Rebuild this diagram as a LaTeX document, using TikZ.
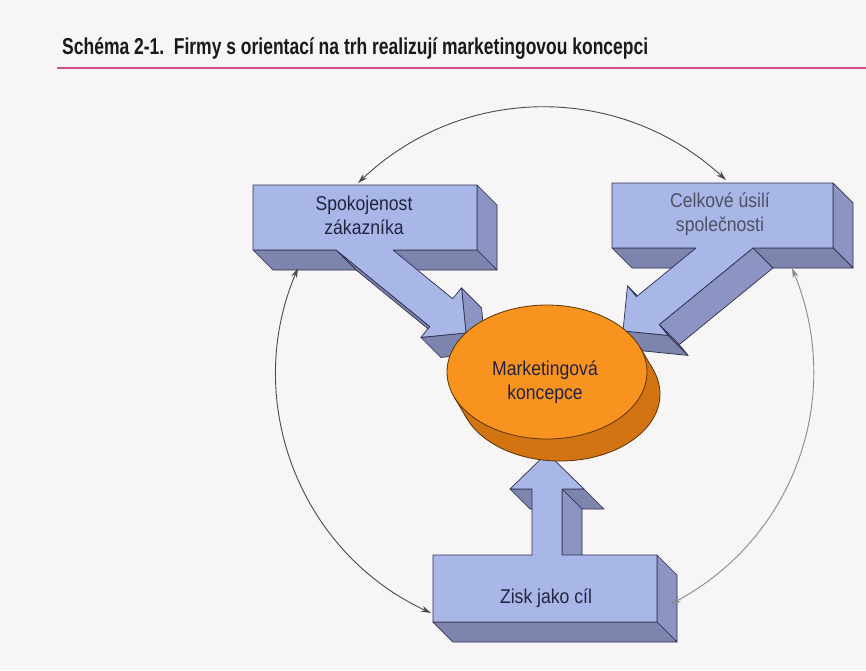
\documentclass[tikz,border=0pt]{standalone}
\usepackage{fontspec}
\setmainfont{Liberation Sans}
\newfontfamily\labelfont[FakeStretch=0.88]{Liberation Sans}
\usetikzlibrary{shapes.geometric,arrows.meta}

\definecolor{paper}{HTML}{F7F5F6}
\definecolor{facefront}{HTML}{A8B7E7}
\definecolor{faceside}{HTML}{8B94C2}
\definecolor{faceunder}{HTML}{7D85AF}
\definecolor{edgeline}{HTML}{2C2E4C}
\definecolor{orangefront}{HTML}{F7931E}
\definecolor{orangeback}{HTML}{D27412}
\definecolor{orangeedge}{HTML}{5A3206}
\definecolor{rulepink}{HTML}{CF4F8C}
\definecolor{textnavy}{HTML}{23233F}
\definecolor{loopdark}{HTML}{4A4A4A}
\definecolor{looplight}{HTML}{8A8A8A}

\begin{document}
\begin{tikzpicture}[x=1pt,y=1pt,
  front/.style={fill=facefront, draw=edgeline, line width=0.7pt, line join=round},
  side/.style={fill=faceside, draw=edgeline, line width=0.7pt, line join=round},
  under/.style={fill=faceunder, draw=edgeline, line width=0.7pt, line join=round},
  lbl/.style={font=\labelfont\fontsize{20}{24.5}\selectfont, text=textnavy, align=center, inner sep=0pt},
  loop/.style={line width=0.9pt, {Stealth[length=10pt,width=6pt]}-{Stealth[length=10pt,width=6pt]}},
]
% page
\fill[paper] (0,0) rectangle (866,-670);
\useasboundingbox (0,0) rectangle (866,-670);

% heading and rule
\node[anchor=base west, inner sep=0pt, font=\bfseries\fontsize{23}{27}\selectfont, text=black!90] (title) at (62,-54)
  {\resizebox{586pt}{\height}{Schéma 2-1.\hspace{0.55em}Firmy s orientací na trh realizují marketingovou koncepci}};
\draw[rulepink, line width=1.6pt] (57,-68) -- (866,-68);

% ---- block: Spokojenost zákazníka (arrow down-right) ----
\path[under] (429.8,-326.6) -- (336.1,-250) -- (356.1,-270) -- (449.8,-346.6) -- cycle;
\path[under] (336.1,-250) -- (253,-250) -- (273,-270) -- (356.1,-270) -- cycle;
\path[side]  (477,-185) -- (497,-205) -- (497,-270) -- (477,-250) -- cycle;
\path[under] (477,-250) -- (497,-270) -- (413,-270) -- (393,-250) -- cycle;
\path[side]  (461.5,-287.8) -- (466,-332.9) -- (486,-352.9) -- (481.5,-307.8) -- cycle;
\path[under] (466,-332.9) -- (420.9,-337.4) -- (440.9,-357.4) -- (486,-352.9) -- cycle;
\path[front] (253,-185) -- (477,-185) -- (477,-250) -- (393,-250) -- (452.6,-298.7)
  -- (461.5,-287.8) -- (466,-332.9) -- (420.9,-337.4) -- (429.8,-326.6) -- (336.1,-250)
  -- (253,-250) -- cycle;

% ---- block: Celkové úsilí společnosti (arrow down-left) ----
\path[under] (696,-248) -- (612,-248) -- (632,-268) -- (716,-268) -- cycle;
\path[side]  (627.5,-285.8) -- (636.4,-296.7) -- (656.4,-316.7) -- (647.5,-305.8) -- cycle;
\path[side]  (833,-183) -- (853,-203) -- (853,-268) -- (833,-248) -- cycle;
\path[under] (833,-248) -- (853,-268) -- (772.9,-268) -- (752.9,-248) -- cycle;
\path[side]  (752.9,-248) -- (659.2,-324.6) -- (679.2,-344.6) -- (772.9,-268) -- cycle;
\path[side]  (659.2,-324.6) -- (668.1,-335.4) -- (688.1,-355.4) -- (679.2,-344.6) -- cycle;
\path[under] (668.1,-335.4) -- (623,-330.9) -- (643,-350.9) -- (688.1,-355.4) -- cycle;
\path[front] (612,-183) -- (833,-183) -- (833,-248) -- (752.9,-248) -- (659.2,-324.6)
  -- (668.1,-335.4) -- (623,-330.9) -- (627.5,-285.8) -- (636.4,-296.7) -- (696,-248)
  -- (612,-248) -- cycle;

% ---- block: Zisk jako cíl (arrow up) ----
\path[under] (532,-489) -- (510,-489) -- (530,-509) -- (552,-509) -- cycle;
\path[under] (584,-489) -- (562,-489) -- (582,-509) -- (604,-509) -- cycle;
\path[side]  (562,-489) -- (562,-555) -- (582,-575) -- (582,-509) -- cycle;
\path[side]  (657,-555) -- (677,-575) -- (677,-642) -- (657,-622) -- cycle;
\path[under] (657,-622) -- (677,-642) -- (453,-642) -- (433,-622) -- cycle;
\path[front] (433,-555) -- (532,-555) -- (532,-489) -- (510,-489) -- (547,-453)
  -- (584,-489) -- (562,-489) -- (562,-555) -- (657,-555) -- (657,-622) -- (433,-622) -- cycle;

% ---- disc: Marketingová koncepce ----
\filldraw[fill=orangeback, draw=orangeedge, line width=0.8pt] (560,-394) ellipse [x radius=100, y radius=67];
\fill[orangeback] (640,-347.3) -- (653,-369.3) -- (467,-418.7) -- (454,-396.7) -- cycle;
\draw[orangeedge, line width=0.8pt] (640,-347.3) -- (653,-369.3) (454,-396.7) -- (467,-418.7);
\node[ellipse, minimum width=200pt, minimum height=134pt, inner sep=0pt,
      fill=orangefront, draw=orangeedge, line width=0.8pt] (disc) at (547,-372) {};

% labels
\node[lbl, anchor=north] (spok) at (364,-195.4) {Spokojenost\\zákazníka};
\node[lbl, anchor=north, text=textnavy!80] (celk) at (720,-192.1) {Celkové úsilí\\společnosti};
\node[lbl, anchor=north] (mk) at (545,-360.4) {Marketingová\\koncepce};
\node[lbl, anchor=north] (zisk) at (546,-588.4) {Zisk jako cíl};

% connector ends on the blocks
\coordinate (spok-top) at (358,-183);
\coordinate (celk-top) at (726,-180);
\coordinate (spok-under) at (298,-268);
\coordinate (celk-under) at (792,-268);
\coordinate (zisk-left) at (431,-613);
\coordinate (zisk-right) at (671,-604);

% feedback loops
\draw[loop, draw=loopdark]  (spok-top) to[bend left=43] (celk-top);
\draw[loop, draw=loopdark]  (spok-under) to[bend right=44] (zisk-left);
\draw[loop, draw=looplight] (celk-under) to[bend left=42] (zisk-right);
\end{tikzpicture}
\end{document}
